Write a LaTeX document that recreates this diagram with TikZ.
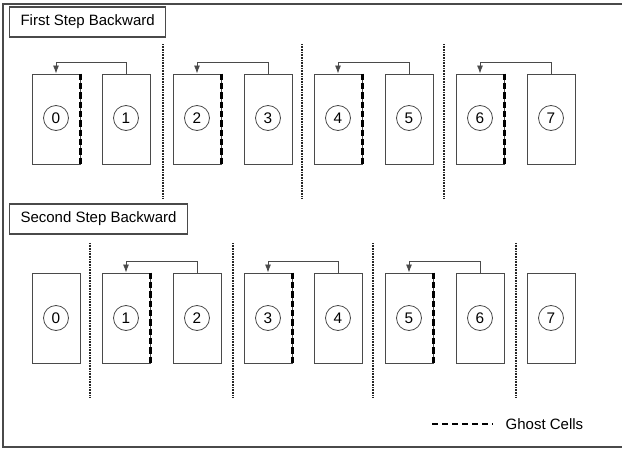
\documentclass[tikz,border=0pt]{standalone}
\usepackage{fontspec}
\setmainfont{Liberation Sans}
\usetikzlibrary{arrows.meta}
\definecolor{edge}{HTML}{4A4A4A}
\tikzset{
  cellbox/.style={draw=edge, line width=0.75pt, minimum width=36pt, minimum height=67.5pt, inner sep=0pt},
  rank/.style={draw=edge, line width=0.6pt, circle, minimum size=18.75pt, inner sep=0pt, font=\fontsize{11.5pt}{13pt}\selectfont},
  titlebox/.style={draw=edge, line width=0.8pt, anchor=west, minimum height=22.5pt, inner xsep=8.25pt, font=\fontsize{11.25pt}{13pt}\selectfont},
  ghost/.style={black, line width=2pt, dash pattern=on 4.8pt off 2.2pt},
  sep/.style={black!85, line width=1.8pt, dash pattern=on 0.6pt off 0.6pt},
  sendarrow/.style={draw=edge, line width=0.6pt, -{Latex[length=6pt,width=4.5pt]}},
  legendtext/.style={anchor=west, font=\fontsize{11.25pt}{13pt}\selectfont}
}
\begin{document}
\begin{tikzpicture}[x=0.75pt,y=-0.75pt]
\clip (0,0) rectangle (622,450);
\draw[edge, line width=1.4pt] (3,4) rectangle (640,447);

% titles
\node[titlebox] (t1) at (9,22) {First Step Backward};
\node[titlebox] (t2) at (9,219) {Second Step Backward};

% cells
\foreach \i/\x in {0/56,1/126,2/197,3/268,4/338,5/409,6/480,7/551}{
  \node[cellbox] (a\i) at (\x,119) {};
  \node[rank] (ca\i) at (\x,118) {\i};
  \node[cellbox] (b\i) at (\x,318) {};
  \node[rank] (cb\i) at (\x,318) {\i};
}
% ghost cells row 1
\foreach \i in {0,2,4,6}{
  \draw[ghost] (a\i.north east) -- (a\i.south east);
}
\foreach \i/\j in {1/0,3/2,5/4,7/6}{
  \draw[sendarrow] (a\i.north) -- ++(0,-11) -| (a\j.north);
}
% ghost cells row 2
\foreach \i in {1,3,5}{
  \draw[ghost] (b\i.north east) -- (b\i.south east);
}
\foreach \i/\j in {2/1,4/3,6/5}{
  \draw[sendarrow] (b\i.north) -- ++(0,-11) -| (b\j.north);
}

% separators
\foreach \x in {163,302,444}{
  \draw[sep] (\x,44) -- (\x,199);
}
\foreach \x in {90,233,373,516}{
  \draw[sep] (\x,243) -- (\x,398);
}

% legend
\coordinate (l1) at (432,424);
\coordinate (l2) at (493,424);
\draw[black, line width=1.6pt, dash pattern=on 4.5pt off 3pt] (l1) -- (l2);
\node[legendtext] (lg) at (501,424) {Ghost Cells};
\end{tikzpicture}
\end{document}
